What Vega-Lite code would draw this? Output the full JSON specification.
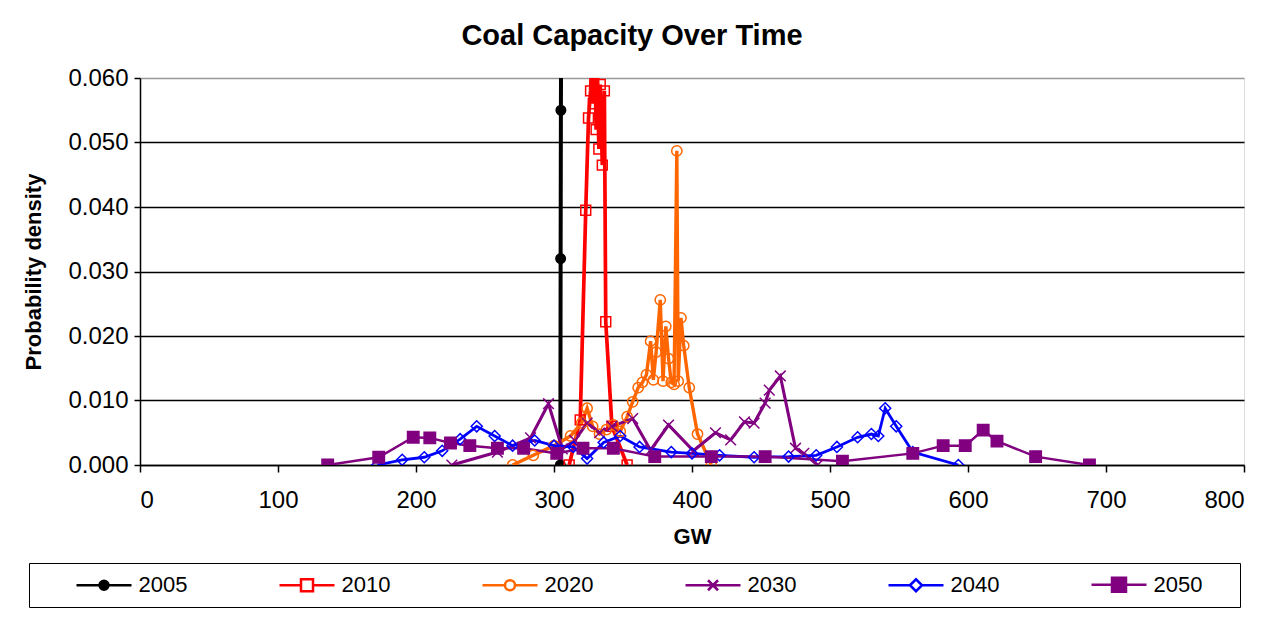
{
  "$schema": "https://vega.github.io/schema/vega-lite/v6.json",
  "background": "white",
  "autosize": {"type": "none"},
  "padding": {"left": 140, "top": 78, "right": 32, "bottom": 154},
  "width": 1104,
  "height": 387,
  "title": {"text": "Coal Capacity Over Time", "fontSize": 29, "fontWeight": "bold", "font": "Liberation Sans", "color": "black", "anchor": "middle", "frame": "group", "offset": 15, "dx": -60},
  "datasets": {
    "curves": [
      {"series": "2005", "gw": 304.6, "d": 0},
      {"series": "2005", "gw": 304.8, "d": 0.032},
      {"series": "2005", "gw": 305.0, "d": 0.055},
      {"series": "2005", "gw": 305.3, "d": 0.075},

      {"series": "2010", "gw": 311, "d": 0},
      {"series": "2010", "gw": 319, "d": 0.007},
      {"series": "2010", "gw": 323, "d": 0.0395},
      {"series": "2010", "gw": 325, "d": 0.0538},
      {"series": "2010", "gw": 326.5, "d": 0.058},
      {"series": "2010", "gw": 327.5, "d": 0.064},
      {"series": "2010", "gw": 328.5, "d": 0.056},
      {"series": "2010", "gw": 329.5, "d": 0.066},
      {"series": "2010", "gw": 330.5, "d": 0.052},
      {"series": "2010", "gw": 331.5, "d": 0.061},
      {"series": "2010", "gw": 332.5, "d": 0.049},
      {"series": "2010", "gw": 333.5, "d": 0.059},
      {"series": "2010", "gw": 335, "d": 0.0465},
      {"series": "2010", "gw": 336.5, "d": 0.058},
      {"series": "2010", "gw": 337.5, "d": 0.0222},
      {"series": "2010", "gw": 342, "d": 0.006},
      {"series": "2010", "gw": 353, "d": 0},

      {"series": "2020", "gw": 270, "d": 0},
      {"series": "2020", "gw": 285, "d": 0.0015},
      {"series": "2020", "gw": 300, "d": 0.003},
      {"series": "2020", "gw": 312, "d": 0.0045},
      {"series": "2020", "gw": 320, "d": 0.0065},
      {"series": "2020", "gw": 324, "d": 0.0088},
      {"series": "2020", "gw": 328, "d": 0.006},
      {"series": "2020", "gw": 333, "d": 0.0048},
      {"series": "2020", "gw": 338, "d": 0.0055},
      {"series": "2020", "gw": 343, "d": 0.0062},
      {"series": "2020", "gw": 348, "d": 0.0052},
      {"series": "2020", "gw": 353, "d": 0.0075},
      {"series": "2020", "gw": 357, "d": 0.0098},
      {"series": "2020", "gw": 361, "d": 0.012},
      {"series": "2020", "gw": 364, "d": 0.0128},
      {"series": "2020", "gw": 367, "d": 0.014},
      {"series": "2020", "gw": 370, "d": 0.0192},
      {"series": "2020", "gw": 372, "d": 0.0132},
      {"series": "2020", "gw": 374, "d": 0.0175},
      {"series": "2020", "gw": 377, "d": 0.0256},
      {"series": "2020", "gw": 379, "d": 0.013},
      {"series": "2020", "gw": 381, "d": 0.0215},
      {"series": "2020", "gw": 383, "d": 0.0165},
      {"series": "2020", "gw": 385, "d": 0.0128},
      {"series": "2020", "gw": 387, "d": 0.0125},
      {"series": "2020", "gw": 389, "d": 0.0487},
      {"series": "2020", "gw": 390, "d": 0.013},
      {"series": "2020", "gw": 392, "d": 0.0228},
      {"series": "2020", "gw": 394, "d": 0.0185},
      {"series": "2020", "gw": 398, "d": 0.012},
      {"series": "2020", "gw": 404, "d": 0.0048},
      {"series": "2020", "gw": 414, "d": 0},

      {"series": "2030", "gw": 226, "d": 0},
      {"series": "2030", "gw": 259, "d": 0.002},
      {"series": "2030", "gw": 283, "d": 0.0042},
      {"series": "2030", "gw": 296, "d": 0.0095},
      {"series": "2030", "gw": 306, "d": 0.0025},
      {"series": "2030", "gw": 315, "d": 0.0038},
      {"series": "2030", "gw": 324, "d": 0.0065},
      {"series": "2030", "gw": 333, "d": 0.005},
      {"series": "2030", "gw": 342, "d": 0.006},
      {"series": "2030", "gw": 357, "d": 0.0072},
      {"series": "2030", "gw": 370, "d": 0.0023},
      {"series": "2030", "gw": 383, "d": 0.0062},
      {"series": "2030", "gw": 401, "d": 0.0022},
      {"series": "2030", "gw": 417, "d": 0.005},
      {"series": "2030", "gw": 428, "d": 0.0039},
      {"series": "2030", "gw": 438, "d": 0.0067},
      {"series": "2030", "gw": 445, "d": 0.0065},
      {"series": "2030", "gw": 453, "d": 0.0096},
      {"series": "2030", "gw": 456, "d": 0.0116},
      {"series": "2030", "gw": 464, "d": 0.0138},
      {"series": "2030", "gw": 475, "d": 0.0026},
      {"series": "2030", "gw": 481, "d": 0.0018},
      {"series": "2030", "gw": 491, "d": 0},

      {"series": "2040", "gw": 172, "d": 0},
      {"series": "2040", "gw": 190, "d": 0.0008},
      {"series": "2040", "gw": 206, "d": 0.0012},
      {"series": "2040", "gw": 219, "d": 0.0022},
      {"series": "2040", "gw": 232, "d": 0.004},
      {"series": "2040", "gw": 244, "d": 0.006},
      {"series": "2040", "gw": 257, "d": 0.0045},
      {"series": "2040", "gw": 270, "d": 0.003},
      {"series": "2040", "gw": 286, "d": 0.0038},
      {"series": "2040", "gw": 300, "d": 0.003},
      {"series": "2040", "gw": 314, "d": 0.0028},
      {"series": "2040", "gw": 324, "d": 0.001},
      {"series": "2040", "gw": 336, "d": 0.0035},
      {"series": "2040", "gw": 348, "d": 0.0045},
      {"series": "2040", "gw": 362, "d": 0.0028},
      {"series": "2040", "gw": 385, "d": 0.002},
      {"series": "2040", "gw": 400, "d": 0.0018},
      {"series": "2040", "gw": 420, "d": 0.0015},
      {"series": "2040", "gw": 445, "d": 0.0012},
      {"series": "2040", "gw": 470, "d": 0.0013},
      {"series": "2040", "gw": 490, "d": 0.0015},
      {"series": "2040", "gw": 505, "d": 0.0028},
      {"series": "2040", "gw": 520, "d": 0.0043},
      {"series": "2040", "gw": 530, "d": 0.0048},
      {"series": "2040", "gw": 535, "d": 0.0045},
      {"series": "2040", "gw": 540, "d": 0.0088},
      {"series": "2040", "gw": 548, "d": 0.006},
      {"series": "2040", "gw": 560, "d": 0.002},
      {"series": "2040", "gw": 593, "d": 0},

      {"series": "2050", "gw": 136, "d": 0},
      {"series": "2050", "gw": 173, "d": 0.0012},
      {"series": "2050", "gw": 198, "d": 0.0043},
      {"series": "2050", "gw": 210, "d": 0.0042},
      {"series": "2050", "gw": 225, "d": 0.0034},
      {"series": "2050", "gw": 239, "d": 0.003},
      {"series": "2050", "gw": 259, "d": 0.0026},
      {"series": "2050", "gw": 278, "d": 0.0026},
      {"series": "2050", "gw": 302, "d": 0.0018},
      {"series": "2050", "gw": 321, "d": 0.0026},
      {"series": "2050", "gw": 343, "d": 0.0026},
      {"series": "2050", "gw": 373, "d": 0.0013},
      {"series": "2050", "gw": 414, "d": 0.0013},
      {"series": "2050", "gw": 453, "d": 0.0013},
      {"series": "2050", "gw": 509, "d": 0.0006},
      {"series": "2050", "gw": 560, "d": 0.0018},
      {"series": "2050", "gw": 582, "d": 0.003},
      {"series": "2050", "gw": 598, "d": 0.003},
      {"series": "2050", "gw": 611, "d": 0.0054},
      {"series": "2050", "gw": 621, "d": 0.0037},
      {"series": "2050", "gw": 649, "d": 0.0013},
      {"series": "2050", "gw": 688, "d": 0}
    ],
    "keys": [
      {"series": "2005"}, {"series": "2010"}, {"series": "2020"},
      {"series": "2030"}, {"series": "2040"}, {"series": "2050"}
    ]
  },
  "resolve": {"scale": {"shape": "independent"}},
  "layer": [
    {
      "data": {"name": "curves"},
      "mark": {"type": "line", "clip": true},
      "encoding": {
        "x": {
          "field": "gw", "type": "quantitative",
          "scale": {"domain": [0, 800], "nice": false, "zero": false},
          "axis": {
            "values": [0, 100, 200, 300, 400, 500, 600, 700, 800],
            "grid": false, "title": "GW",
            "domainColor": "black", "domainWidth": 1.5,
            "tickColor": "black", "tickWidth": 1.5, "tickSize": 7,
            "labelFontSize": 24, "labelPadding": 16, "labelColor": "black",
            "titleFontSize": 22, "titleFontWeight": "bold", "titleColor": "black", "titlePadding": 14
          }
        },
        "y": {
          "field": "d", "type": "quantitative",
          "scale": {"domain": [0, 0.06], "nice": false},
          "axis": {
            "values": [0, 0.01, 0.02, 0.03, 0.04, 0.05, 0.06],
            "format": ".3f",
            "grid": true,
            "gridColor": {"condition": {"test": "datum.value >= 0.059", "value": "#999999"}, "value": "black"},
            "gridWidth": 1.5, "gridOpacity": 1,
            "title": "Probability density",
            "domainColor": "black", "domainWidth": 1.5,
            "tickColor": "black", "tickWidth": 1.5, "tickSize": 6,
            "labelFontSize": 24, "labelPadding": 6, "labelColor": "black",
            "titleFontSize": 22, "titleFontWeight": "bold", "titleColor": "black", "titlePadding": 22
          }
        },
        "color": {
          "field": "series", "type": "nominal",
          "scale": {"domain": ["2005", "2010", "2020", "2030", "2040", "2050"], "range": ["#000000", "#FF0000", "#FF6600", "#800080", "#0000FF", "#800080"]},
          "legend": null
        },
        "strokeWidth": {"field": "series", "type": "ordinal", "scale": {"domain": ["2005", "2010", "2020", "2030", "2040", "2050"], "range": [4, 2.5, 3, 2, 3, 3]}, "legend": null}
      }
    },
    {
      "data": {"name": "curves"},
      "mark": {"type": "point", "clip": true, "opacity": 1, "strokeWidth": 1.5},
      "encoding": {
        "x": {"field": "gw", "type": "quantitative"},
        "y": {"field": "d", "type": "quantitative"},
        "color": {"field": "series", "type": "nominal", "legend": null},
        "shape": {"field": "series", "type": "nominal", "scale": {"domain": ["2005", "2010", "2020", "2030", "2040", "2050"], "range": ["circle", "square", "circle", "M-1,-1L1,1M-1,1L1,-1", "diamond", "square"]}, "legend": null},
        "fill": {"field": "series", "type": "nominal", "scale": {"domain": ["2005", "2010", "2020", "2030", "2040", "2050"], "range": ["#000000", "transparent", "transparent", "transparent", "transparent", "#800080"]}, "legend": null},
        "size": {"field": "series", "type": "ordinal", "scale": {"domain": ["2005", "2010", "2020", "2030", "2040", "2050"], "range": [90, 130, 100, 90, 110, 180]}, "legend": null}
      }
    },
    {
      "data": {"name": "keys"},
      "mark": {
        "type": "point", "opacity": 0,
        "stroke": {"expr": "scale('color', datum.value)"},
        "fill": {"expr": "scale('fill', datum.value)"},
        "strokeWidth": {"expr": "scale('strokeWidth', datum.value)"}
      },
      "encoding": {
        "shape": {
          "field": "series", "type": "nominal",
          "scale": {"domain": ["2005", "2010", "2020", "2030", "2040", "2050"], "range": [
            "M-2.75,0L-0.45,0M0.45,0L2.75,0M-0.45,0A0.45,0.45,0,1,1,0.45,0A0.45,0.45,0,1,1,-0.45,0ZM10.6,0",
            "M-2.75,0L-0.6,0M0.6,0L2.75,0M-0.6,-0.6L0.6,-0.6L0.6,0.6L-0.6,0.6ZM10.6,0",
            "M-2.75,0L-0.5,0M0.5,0L2.75,0M-0.5,0A0.5,0.5,0,1,1,0.5,0A0.5,0.5,0,1,1,-0.5,0ZM10.6,0",
            "M-2.75,0L2.75,0M-0.5,-0.5L0.5,0.5M-0.5,0.5L0.5,-0.5M10.6,0",
            "M-2.75,0L-0.6,0M0.6,0L2.75,0M-0.6,0L0,-0.6L0.6,0L0,0.6ZM10.6,0",
            "M-2.75,0L-0.7,0M0.7,0L2.75,0M-0.7,-0.7L0.7,-0.7L0.7,0.7L-0.7,0.7ZM10.6,0"
          ]},
          "legend": {
            "orient": "none", "legendX": -111, "legendY": 485,
            "direction": "horizontal", "columns": 6, "gridAlign": "all",
            "title": "\u00a0", "titleOrient": "left", "titlePadding": 36, "titleFontSize": 22,
            "symbolSize": 400, "symbolOffset": 17.5, "symbolOpacity": 1, "symbolStrokeWidth": 2.5,
            "labelFontSize": 22, "labelColor": "black", "labelFont": "Liberation Sans", "labelOffset": 23,
            "columnPadding": 59, "padding": 10,
            "strokeColor": "black", "fillColor": "white",
            "encode": {
              "legend": {"update": {"strokeWidth": {"value": 1.5}}}
            }
          }
        }
      }
    }
  ],
  "config": {
    "font": "Liberation Sans",
    "axis": {"labelFont": "Liberation Sans", "titleFont": "Liberation Sans"}
  }
}
